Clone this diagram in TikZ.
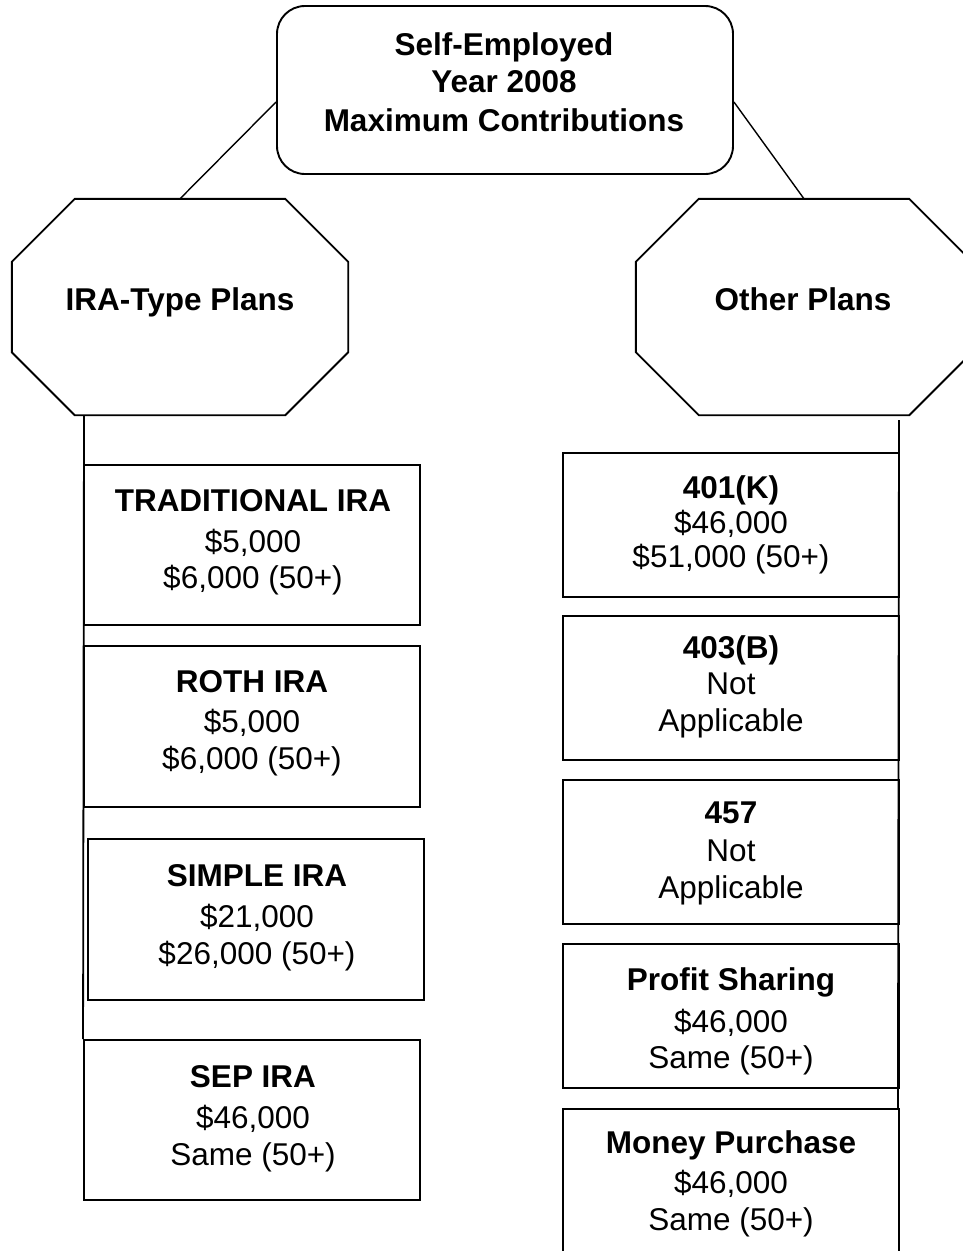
\documentclass[tikz,border=0pt]{standalone}
\usepackage{fontspec}
\setmainfont{Liberation Sans}
\usetikzlibrary{calc}
\newcommand\octpath[1]{%
  \draw[outline] ([xshift=63pt]#1.north west) -- ([xshift=-63pt]#1.north east)
    -- ([yshift=-63pt]#1.north east) -- ([yshift=63pt]#1.south east)
    -- ([xshift=-63pt]#1.south east) -- ([xshift=63pt]#1.south west)
    -- ([yshift=63pt]#1.south west) -- ([yshift=-63pt]#1.north west) -- cycle;}
\begin{document}
\begin{tikzpicture}[x=1pt,y=-1pt,
  outline/.style={draw=black, line width=1.9pt, line join=miter},
  plainbox/.style={outline, minimum width=336pt, minimum height=#1, inner sep=0pt},
  octbox/.style={minimum width=336pt, minimum height=216pt, inner sep=0pt},
  txt/.style={anchor=north, inner sep=0pt, align=center, font=\fontsize{31.5}{36}\selectfont},
  octtxt/.style={anchor=base, inner sep=0pt, font=\fontsize{31.5}{36}\selectfont\bfseries},
  link/.style={draw=black, line width=1.4pt},
  trunk/.style={draw=black, line width=1.8pt}]
\useasboundingbox (0,0) rectangle (963,1251);
\fill[white] (0,0) rectangle (963,1251);

% top box
\node[outline, rounded corners=28pt, minimum width=456pt, minimum height=168pt, inner sep=0pt] (top) at (505,90) {};
\node[txt, font=\fontsize{31.5}{36}\selectfont\bfseries] (toptext) at (504,32)
  {Self-Employed\\[1pt]Year 2008\\[3pt]Maximum Contributions};

% octagons
\node[octbox] (ira) at (180,307) {};
\octpath{ira}
\node[octtxt] (iratext) at (180,310) {IRA-Type Plans};
\node[octbox] (other) at (804,307) {};
\octpath{other}
\node[octtxt] (othertext) at (803,310) {Other Plans};

% connectors from top
\draw[link] ([yshift=-12pt]top.west) -- (ira.north);
\draw[link] ([yshift=-12pt]top.east) -- (other.north);

% left boxes
\node[plainbox=160pt] (trad) at (252,545) {};
\node[txt] (tradt) at (253,489) {\textbf{TRADITIONAL IRA}\\[5pt]\$5,000\\\$6,000 (50+)};
\node[plainbox=161pt] (roth) at (252,726.5) {};
\node[txt] (rotht) at (252,670) {\textbf{ROTH IRA}\\[4pt]\$5,000\\[1pt]\$6,000 (50+)};
\node[plainbox=161pt] (simple) at (256,919.5) {};
\node[txt] (simplet) at (257,864) {\textbf{SIMPLE IRA}\\[5pt]\$21,000\\[1pt]\$26,000 (50+)};
\node[plainbox=160pt] (sep) at (252,1120) {};
\node[txt] (sept) at (253,1065) {\textbf{SEP IRA}\\[5pt]\$46,000\\[1pt]Same (50+)};

% right boxes
\node[plainbox=144pt] (k401) at (731,525) {};
\node[txt] (k401t) at (731,475) {\textbf{401(K)}\\[-1pt]\$46,000\\[-2pt]\$51,000 (50+)};
\node[plainbox=144pt] (b403) at (731,688) {};
\node[txt] (b403t) at (731,635) {\textbf{403(B)}\\Not\\[1pt]Applicable};
\node[plainbox=144pt] (p457) at (731,852) {};
\node[txt] (p457t) at (731,802) {\textbf{457}\\[2pt]Not\\[1pt]Applicable};
\node[plainbox=144pt] (profit) at (731,1016) {};
\node[txt] (profitt) at (731,967.6) {\textbf{Profit Sharing}\\[6pt]\$46,000\\Same (50+)};
\node[plainbox=144pt] (money) at (731,1181) {};
\node[txt] (moneyt) at (731,1130) {\textbf{Money Purchase}\\[4pt]\$46,000\\[1pt]Same (50+)};

% vertical trunks
\draw[trunk] ([xshift=-96pt]ira.south) -- (sep.north west);
\draw[trunk] ([xshift=95pt,yshift=-5pt]other.south) -- ([xshift=-2pt]money.north east);
\end{tikzpicture}
\end{document}
